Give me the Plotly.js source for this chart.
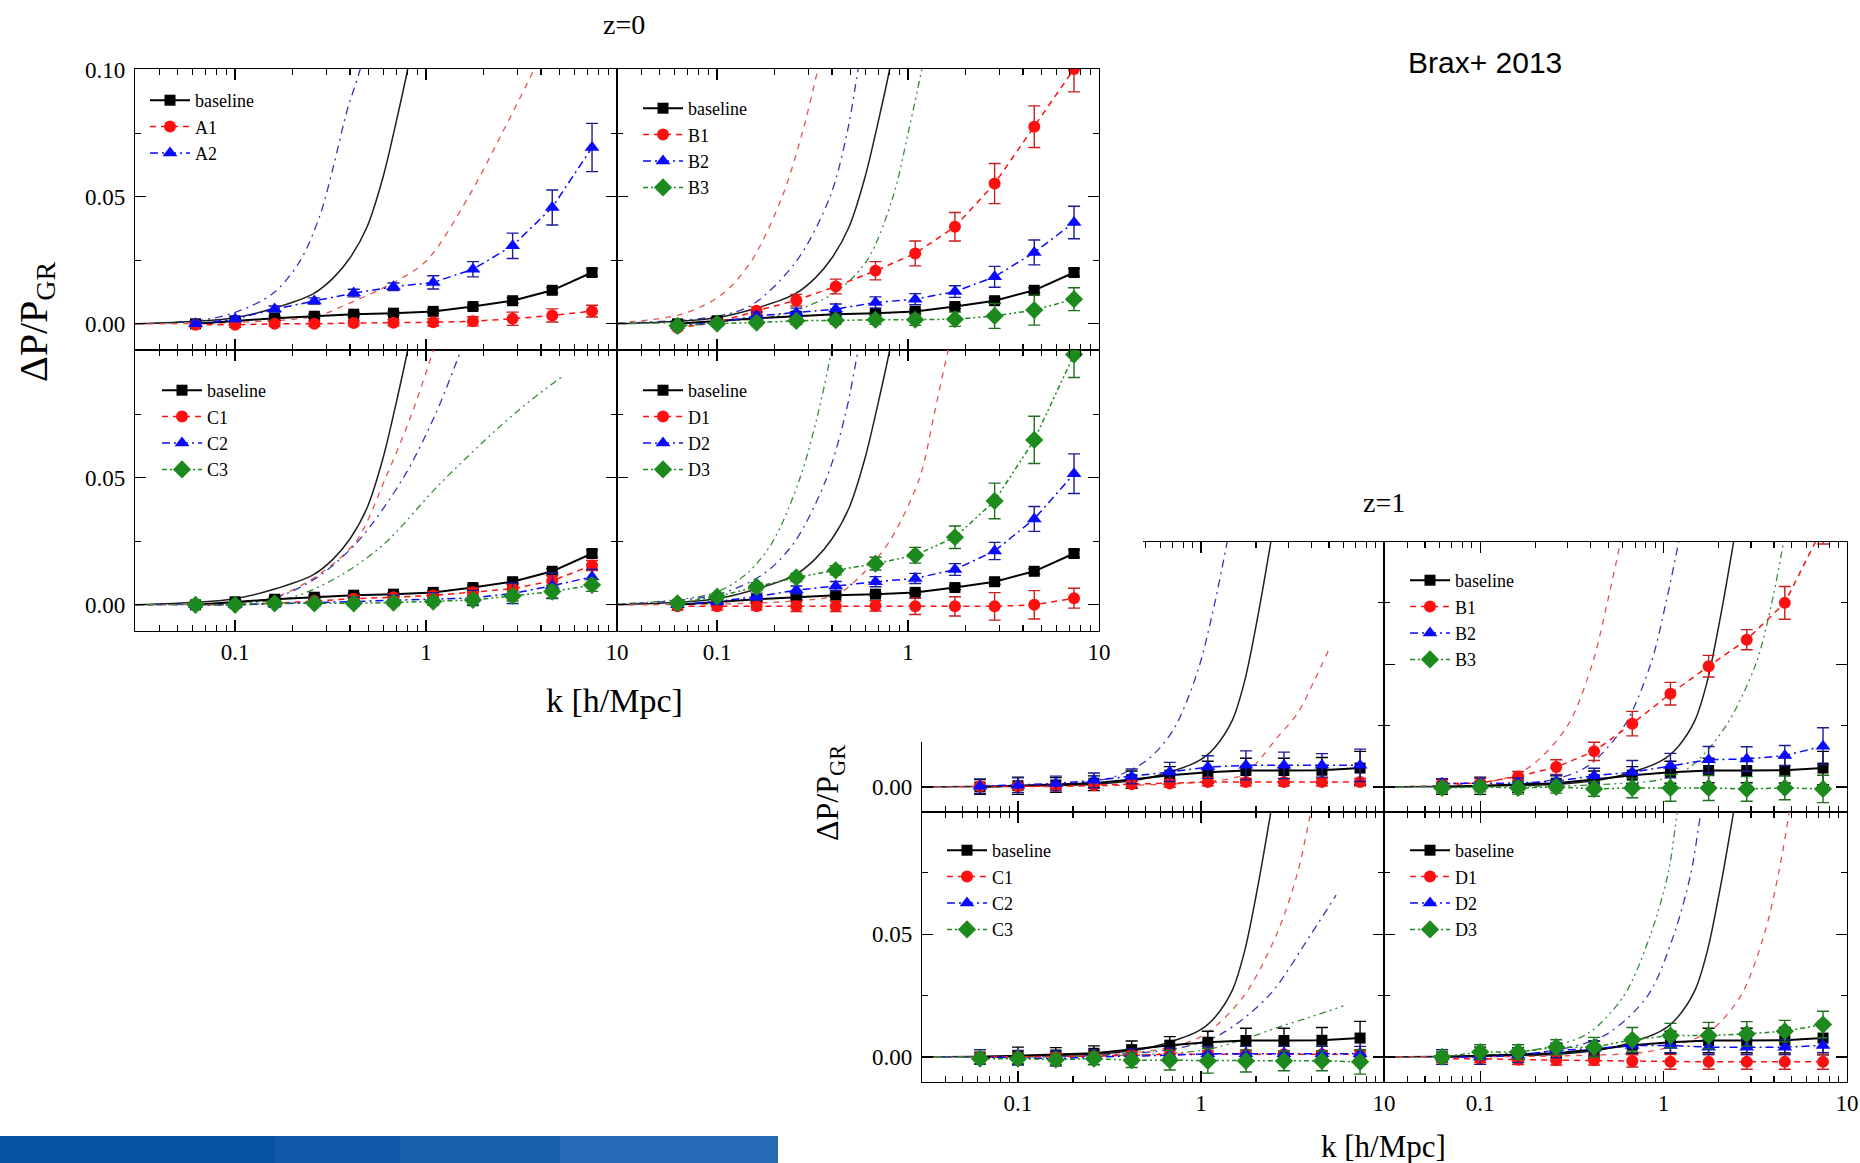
<!DOCTYPE html>
<html><head><meta charset="utf-8">
<script src="https://cdn.plot.ly/plotly-3.0.1.min.js"></script>
<style>
html,body{margin:0;padding:0;background:#fff;width:1860px;height:1163px;overflow:hidden}
#z1{position:absolute;left:0;top:0;width:1860px;height:1163px;z-index:1}
#z0{position:absolute;left:0;top:0;width:1143px;height:742px;z-index:2;background:#fff}
</style></head>
<body><div id="z1"></div><div id="z0"></div>
<script>
// ---------------- data ----------------
const K = [0.062, 0.1, 0.161, 0.26, 0.418, 0.675, 1.09, 1.76, 2.84, 4.58, 7.4];
const X_TICKS = [0.1, 1, 10];
const X_TICKTEXT = ['0.1', '1', '10'];
const X_MINOR = [0.04,0.05,0.06,0.07,0.08,0.09,0.2,0.3,0.4,0.5,0.6,0.7,0.8,0.9,2,3,4,5,6,7,8,9];
const Y_TICKS_FULL = [0, 0.05, 0.1];
const Y_TICKS_LOWER = [0, 0.05];
const Y_TICKS_CROPPED = [0];
const Y_MINOR = [0.025, 0.075];

// z=0 simulation points
const z0_base     = [0.0, 0.0012, 0.0022, 0.003, 0.0038, 0.0042, 0.0049, 0.0068, 0.0091, 0.0132, 0.0202];
const z0_base_err = [0.0008, 0.0008, 0.0008, 0.0008, 0.0008, 0.0008, 0.0008, 0.0008, 0.001, 0.001, 0.0015];
const z0_A1     = [-0.0004, -0.0004, 0.0, 0.0, 0.0003, 0.0004, 0.0006, 0.001, 0.002, 0.0033, 0.005];
const z0_A1_err = [0.001, 0.001, 0.001, 0.001, 0.001, 0.0012, 0.0015, 0.0018, 0.0026, 0.0026, 0.0023];
const z0_A2     = [0.0, 0.0019, 0.0058, 0.009, 0.0121, 0.0146, 0.0163, 0.0215, 0.0307, 0.0458, 0.0694];
const z0_A2_err = [0.001, 0.001, 0.0012, 0.0012, 0.0015, 0.0015, 0.0026, 0.003, 0.005, 0.0069, 0.0095];
const z0_B1     = [-0.0015, 0.0005, 0.0051, 0.0093, 0.0147, 0.0209, 0.0277, 0.0382, 0.0552, 0.0776, 0.1003];
const z0_B1_err = [0.001, 0.0012, 0.0015, 0.0023, 0.0029, 0.0036, 0.0049, 0.0056, 0.0079, 0.0082, 0.009];
const z0_B2     = [-0.0008, 0.0005, 0.0031, 0.0044, 0.0058, 0.0084, 0.0097, 0.0127, 0.0185, 0.0281, 0.0399];
const z0_B2_err = [0.001, 0.001, 0.0015, 0.0018, 0.002, 0.0022, 0.0022, 0.0023, 0.0041, 0.0049, 0.0064];
const z0_B3     = [-0.0008, 0.0001, 0.0005, 0.0012, 0.0014, 0.0016, 0.0016, 0.0018, 0.0031, 0.0054, 0.0097];
const z0_B3_err = [0.001, 0.001, 0.0012, 0.0015, 0.0015, 0.0018, 0.0022, 0.0028, 0.0049, 0.0059, 0.0045];
const z0_C1     = [0.0, 0.0, 0.0006, 0.0015, 0.0024, 0.003, 0.0037, 0.005, 0.0063, 0.0095, 0.0155];
const z0_C1_err = [0.001, 0.001, 0.001, 0.001, 0.0012, 0.0012, 0.0015, 0.0015, 0.002, 0.002, 0.002];
const z0_C2     = [0.0, 0.0, 0.0004, 0.001, 0.0013, 0.0018, 0.0023, 0.0027, 0.0045, 0.0075, 0.011];
const z0_C2_err = [0.0012, 0.0012, 0.0014, 0.0015, 0.0017, 0.002, 0.0025, 0.003, 0.004, 0.005, 0.003];
const z0_C3     = [0.0, 0.0, 0.0006, 0.0006, 0.0006, 0.0009, 0.0013, 0.0019, 0.0035, 0.0052, 0.0078];
const z0_C3_err = [0.001, 0.001, 0.001, 0.001, 0.0012, 0.0012, 0.0015, 0.0018, 0.002, 0.0025, 0.0025];
const z0_D1     = [-0.0006, -0.0006, -0.0006, -0.0006, -0.0006, -0.0004, -0.0006, -0.0006, -0.0006, 0.0, 0.0026];
const z0_D1_err = [0.0015, 0.0015, 0.0015, 0.002, 0.002, 0.002, 0.0032, 0.0038, 0.0054, 0.0056, 0.0039];
const z0_D2     = [0.0, 0.0013, 0.0032, 0.0058, 0.0074, 0.0091, 0.0104, 0.0139, 0.0212, 0.0338, 0.0516];
const z0_D2_err = [0.001, 0.0012, 0.0014, 0.0016, 0.0018, 0.002, 0.002, 0.0023, 0.0034, 0.0049, 0.0078];
const z0_D3     = [0.0006, 0.0032, 0.0071, 0.0108, 0.0136, 0.0162, 0.0195, 0.0266, 0.0409, 0.0649, 0.0985];
const z0_D3_err = [0.001, 0.0012, 0.0015, 0.0016, 0.0018, 0.0025, 0.0031, 0.0044, 0.007, 0.0093, 0.009];

// z=0 model curves
const th0_base_k = [0.03, 0.063, 0.1, 0.158, 0.256, 0.326, 0.40, 0.49, 0.594, 0.70, 0.80, 0.87];
const th0_base_v = [0.0, 0.001, 0.0024, 0.006, 0.0118, 0.018, 0.026, 0.038, 0.0575, 0.08, 0.10, 0.115];
const th0_A1_k = [0.03, 0.1, 0.265, 0.38, 0.686, 1.01, 1.67, 2.5, 3.67, 4.2];
const th0_A1_v = [0.0, 0.0005, 0.003, 0.0075, 0.0165, 0.025, 0.05, 0.075, 0.10, 0.11];
const th0_A2_k = [0.03, 0.063, 0.1, 0.158, 0.219, 0.279, 0.326, 0.386, 0.451, 0.5];
const th0_A2_v = [0.0, 0.0012, 0.0045, 0.012, 0.0248, 0.043, 0.0615, 0.084, 0.10, 0.115];
const th0_B1_k = [0.03, 0.066, 0.107, 0.152, 0.219, 0.279, 0.337, 0.37];
const th0_B1_v = [0.0003, 0.0039, 0.0118, 0.025, 0.05, 0.075, 0.10, 0.112];
const th0_B2_k = [0.03, 0.1, 0.154, 0.262, 0.39, 0.479, 0.547, 0.6];
const th0_B2_v = [0.0002, 0.003, 0.0077, 0.025, 0.05, 0.075, 0.10, 0.118];
const th0_B3_k = [0.03, 0.1, 0.2, 0.405, 0.61, 0.834, 1.0, 1.18, 1.3];
const th0_B3_v = [0.0, 0.001, 0.003, 0.0118, 0.025, 0.05, 0.075, 0.10, 0.115];
const th0_C1_k = [0.03, 0.1, 0.165, 0.279, 0.43, 0.614, 0.84, 1.09, 1.2];
const th0_C1_v = [0.0, 0.0008, 0.0032, 0.0123, 0.025, 0.05, 0.075, 0.10, 0.11];
const th0_C2_k = [0.03, 0.1, 0.165, 0.265, 0.44, 0.76, 1.12, 1.52, 1.65];
const th0_C2_v = [0.0, 0.0008, 0.003, 0.0105, 0.025, 0.05, 0.075, 0.10, 0.107];
const th0_C3_k = [0.03, 0.1, 0.2, 0.37, 0.614, 1.16, 2.38, 3.6, 5.2];
const th0_C3_v = [0.0, 0.0005, 0.003, 0.0123, 0.0245, 0.047, 0.0695, 0.081, 0.090];
const th0_D1_k = [0.03, 0.1, 0.25, 0.42, 0.58, 0.8, 1.15, 1.37, 1.62, 1.75];
const th0_D1_v = [0.0, 0.0003, 0.0015, 0.0039, 0.0123, 0.025, 0.05, 0.075, 0.10, 0.11];
const th0_D2_k = [0.03, 0.1, 0.176, 0.256, 0.375, 0.47, 0.547, 0.6];
const th0_D2_v = [0.0002, 0.004, 0.0123, 0.025, 0.05, 0.075, 0.10, 0.115];
const th0_D3_k = [0.03, 0.095, 0.143, 0.196, 0.272, 0.337, 0.398, 0.43];
const th0_D3_v = [0.0003, 0.0045, 0.0123, 0.025, 0.05, 0.075, 0.10, 0.112];

// z=1 simulation points
const z1_base     = [0.0, 0.0005, 0.0008, 0.0015, 0.003, 0.0048, 0.006, 0.0067, 0.0067, 0.0068, 0.0077];
const z1_base_err = [0.003, 0.0035, 0.003, 0.003, 0.0035, 0.0035, 0.0045, 0.005, 0.005, 0.0052, 0.0068];
const z1_A1     = [0.0003, 0.0003, 0.0003, 0.0007, 0.0011, 0.0014, 0.002, 0.002, 0.002, 0.002, 0.002];
const z1_A1_err = [0.001, 0.001, 0.001, 0.0012, 0.0012, 0.0015, 0.0015, 0.0015, 0.0015, 0.0015, 0.0015];
const z1_A2     = [0.0003, 0.0007, 0.0014, 0.0027, 0.0043, 0.0061, 0.0081, 0.0088, 0.0088, 0.0088, 0.0088];
const z1_A2_err = [0.003, 0.003, 0.003, 0.003, 0.003, 0.0039, 0.0046, 0.0059, 0.0054, 0.0048, 0.0066];
const z1_B1     = [0.0014, 0.0016, 0.0043, 0.0081, 0.0145, 0.0258, 0.038, 0.0492, 0.06, 0.075, 0.106];
const z1_B1_err = [0.002, 0.002, 0.002, 0.003, 0.0037, 0.005, 0.0046, 0.0044, 0.0041, 0.0067, 0.007];
const z1_B2     = [0.0014, 0.0016, 0.0016, 0.0023, 0.0046, 0.006, 0.0087, 0.0111, 0.0114, 0.0128, 0.0166];
const z1_B2_err = [0.002, 0.002, 0.002, 0.0025, 0.003, 0.0048, 0.005, 0.0054, 0.005, 0.0041, 0.0075];
const z1_B3     = [-0.0004, 0.0, -0.0004, 0.0, -0.0008, -0.0004, -0.0004, -0.0004, -0.0008, -0.0004, -0.0008];
const z1_B3_err = [0.002, 0.002, 0.0025, 0.0025, 0.003, 0.004, 0.0054, 0.0051, 0.005, 0.0048, 0.0056];
const z1_C1     = [0.0, 0.0, 0.0, 0.0003, 0.0007, 0.0011, 0.0011, 0.0011, 0.0011, 0.0011, 0.0011];
const z1_C1_err = [0.0015, 0.0015, 0.0015, 0.0015, 0.0015, 0.0015, 0.0015, 0.0015, 0.0015, 0.0015, 0.0015];
const z1_C2     = [0.0, -0.0003, -0.0007, 0.0, 0.0003, 0.0007, 0.0013, 0.0013, 0.0013, 0.0013, 0.0013];
const z1_C2_err = [0.003, 0.003, 0.003, 0.003, 0.003, 0.003, 0.003, 0.003, 0.003, 0.003, 0.003];
const z1_C3     = [-0.0007, -0.0007, -0.0011, -0.0007, -0.0013, -0.0013, -0.0016, -0.0016, -0.0016, -0.0016, -0.002];
const z1_C3_err = [0.002, 0.002, 0.002, 0.0025, 0.003, 0.004, 0.005, 0.0045, 0.004, 0.004, 0.005];
const z1_D1     = [-0.0007, -0.0007, -0.0011, -0.0013, -0.0013, -0.0016, -0.002, -0.002, -0.002, -0.002, -0.002];
const z1_D1_err = [0.0015, 0.0015, 0.002, 0.002, 0.002, 0.0025, 0.003, 0.003, 0.003, 0.003, 0.003];
const z1_D2     = [0.0, 0.0, 0.0007, 0.0027, 0.0034, 0.0047, 0.0047, 0.004, 0.004, 0.004, 0.0047];
const z1_D2_err = [0.003, 0.003, 0.003, 0.003, 0.003, 0.003, 0.003, 0.003, 0.003, 0.003, 0.003];
const z1_D3     = [0.0, 0.002, 0.002, 0.004, 0.004, 0.007, 0.0087, 0.0087, 0.0094, 0.0105, 0.0132];
const z1_D3_err = [0.002, 0.003, 0.003, 0.003, 0.004, 0.005, 0.005, 0.0054, 0.005, 0.0044, 0.0054];

// z=1 model curves
const th1_base_k = [0.03, 0.1, 0.25, 0.417, 0.63, 0.98, 1.19, 1.48, 1.73, 2.05, 2.41, 2.6];
const th1_base_v = [0.0, 0.0004, 0.001, 0.0025, 0.0054, 0.0108, 0.0161, 0.027, 0.043, 0.07, 0.10, 0.115];
const th1_A1_k = [0.03, 0.3, 1.0, 1.72, 2.08, 2.6, 3.37, 4.2, 5.07];
const th1_A1_v = [0.0, 0.0005, 0.002, 0.005, 0.011, 0.02, 0.030, 0.044, 0.057];
const th1_A2_k = [0.03, 0.1, 0.2, 0.331, 0.508, 0.705, 0.953, 1.15, 1.39, 1.5];
const th1_A2_v = [0.0, 0.0005, 0.0015, 0.004, 0.011, 0.0232, 0.0465, 0.07, 0.10, 0.115];
const th1_B1_k = [0.03, 0.129, 0.188, 0.298, 0.408, 0.493, 0.583, 0.62];
const th1_B1_v = [0.0, 0.003, 0.0084, 0.0247, 0.05, 0.075, 0.10, 0.11];
const th1_B2_k = [0.03, 0.15, 0.25, 0.384, 0.608, 0.85, 1.03, 1.21, 1.3];
const th1_B2_v = [0.0, 0.001, 0.003, 0.0084, 0.0247, 0.05, 0.075, 0.10, 0.112];
const th1_B3_k = [0.03, 0.3, 0.6, 0.96, 1.41, 2.18, 3.18, 3.89, 4.52, 4.8];
const th1_B3_v = [0.0, 0.0005, 0.0015, 0.003, 0.0084, 0.0247, 0.05, 0.075, 0.10, 0.11];
const th1_C1_k = [0.03, 0.3, 0.687, 1.06, 1.72, 2.59, 3.37, 3.99, 4.3];
const th1_C1_v = [0.0, 0.0008, 0.004, 0.0094, 0.025, 0.05, 0.075, 0.10, 0.11];
const th1_C2_k = [0.03, 0.3, 0.8, 1.29, 2.35, 3.99, 5.47];
const th1_C2_v = [0.0, 0.0008, 0.004, 0.0094, 0.025, 0.05, 0.0659];
const th1_C3_k = [0.03, 0.3, 1.02, 1.64, 2.64, 3.9, 6.0];
const th1_C3_v = [0.0, 0.0005, 0.0027, 0.0067, 0.0121, 0.0161, 0.0208];
const th1_D1_k = [0.03, 0.3, 0.8, 1.24, 1.81, 2.64, 3.54, 4.24, 4.85, 5.1];
const th1_D1_v = [0.0, 0.0005, 0.002, 0.0054, 0.0108, 0.025, 0.05, 0.075, 0.10, 0.11];
const th1_D2_k = [0.03, 0.15, 0.31, 0.493, 0.82, 1.14, 1.41, 1.6, 1.7];
const th1_D2_v = [0.0, 0.0008, 0.004, 0.0094, 0.025, 0.05, 0.075, 0.10, 0.11];
const th1_D3_k = [0.03, 0.12, 0.232, 0.384, 0.608, 0.85, 1.06, 1.19, 1.27];
const th1_D3_v = [0.0, 0.001, 0.004, 0.0094, 0.025, 0.05, 0.075, 0.10, 0.112];

// ---------------- styles ----------------
const SERIF = '"Liberation Serif", "Times New Roman", "DejaVu Serif", serif';
const SANS = '"Liberation Sans", Arial, "DejaVu Sans", sans-serif';
const COL = {base:'#000000', s1:'#ff1010', s2:'#0a0aff', s3:'#1c8a1c'};
const ERRCOL = {base:'#000000', s1:'#c81e1e', s2:'#1c1c96', s3:'#1d6e1d'};
const THCOL = {base:'#202020', s1:'#e2554e', s2:'#3535b5', s3:'#3a8c3a'};
const DASH = {base:'solid', s1:'6px,5px', s2:'8px,4px,2px,4px', s3:'5px,3px,2px,3px,2px,3px'};
const THDASH = {base:'solid', s1:'6px,6px', s2:'8px,5px,2px,5px', s3:'2px,4px,2px,4px,7px,4px'};
const SYM = {base:'square', s1:'circle', s2:'triangle-up', s3:'diamond'};
const MSIZE = {base:11, s1:12, s2:13, s3:14};
const LOGMIN = Math.log10(0.0299);

function dataTrace(name, role, y, err, xa, ya, legend, showLegend) {
  return {type:'scatter', mode:'lines+markers', x:K, y:y, name:name, xaxis:xa, yaxis:ya, legend:legend,
    showlegend:showLegend,
    line:{color:COL[role], width: role==='base'?2:1.5, dash:DASH[role]},
    marker:{symbol:SYM[role], size:MSIZE[role], color:COL[role]},
    error_y:{type:'data', array:err, visible:true, color:ERRCOL[role], thickness:1.4, width:6},
    hoverinfo:'skip'};
}
function theoryTrace(role, kk, vv, xa, ya) {
  return {type:'scatter', mode:'lines', x:kk, y:vv, xaxis:xa, yaxis:ya, showlegend:false,
    line:{color:THCOL[role], width: role==='base'?1.5:1.3, dash:THDASH[role], shape:'spline', smoothing:0.9},
    hoverinfo:'skip'};
}

function xAxis(dom, anchor, labels) {
  return {type:'log', range:[LOGMIN, 1], domain:dom, anchor:anchor, showline:true, linecolor:'#000', linewidth:1.2,
    mirror:'ticks', ticks:'inside', ticklen:11, tickwidth:1.3, tickcolor:'#000', tickmode:'array',
    tickvals:X_TICKS, ticktext:X_TICKTEXT, showticklabels:labels, ticklabelstandoff:0,
    tickfont:{family:SERIF, size:23, color:'#000'}, showgrid:false, zeroline:false, fixedrange:true,
    minor:{tickmode:'array', tickvals:X_MINOR, ticks:'inside', ticklen:6, tickwidth:1.2, tickcolor:'#000', showgrid:false}};
}
function yAxis(dom, anchor, range, tickvals, labels) {
  return {range:range, domain:dom, anchor:anchor, showline:true, linecolor:'#000', linewidth:1.2,
    mirror:'ticks', ticks:'inside', ticklen:11, tickwidth:1.3, tickcolor:'#000', tickmode:'array',
    tickvals:tickvals, tickformat:'.2f', showticklabels:labels, ticklabelstandoff:4,
    tickfont:{family:SERIF, size:23, color:'#000'}, showgrid:false, zeroline:false, fixedrange:true,
    minor:{tickmode:'array', tickvals:Y_MINOR, ticks:'inside', ticklen:6, tickwidth:1.2, tickcolor:'#000', showgrid:false}};
}
function legendAt(px, py, W, H) {
  return {x:px/W, y:1-py/H, xanchor:'left', yanchor:'top', bgcolor:'rgba(0,0,0,0)', borderwidth:0,
    font:{family:SERIF, size:18, color:'#000'}, tracegroupgap:0, traceorder:'normal', itemwidth:40,
    itemclick:false, itemdoubleclick:false};
}

function buildFigure(panels, W, H, yrange) {
  const traces = [];
  const layout = {width:W, height:H, margin:{l:0,r:0,t:0,b:0}, paper_bgcolor:'#fff', plot_bgcolor:'#fff',
    showlegend:true, annotations:[], shapes:[]};
  panels.forEach((p, i) => {
    const xa = i===0?'x':'x'+(i+1), ya = i===0?'y':'y'+(i+1);
    const legName = i===0?'legend':'legend'+(i+1);
    const xd = [p.xpx[0]/W, p.xpx[1]/W];
    const yd = [1-p.ypx[1]/H, 1-p.ypx[0]/H];
    layout[i===0?'xaxis':'xaxis'+(i+1)] = xAxis(xd, ya, p.xlabels);
    layout[i===0?'yaxis':'yaxis'+(i+1)] = yAxis(yd, xa, yrange, p.yticks, p.ylabels);
    if (p.leg) layout[legName] = legendAt(p.leg[0], p.leg[1], W, H);
    p.theory.forEach(t => traces.push(theoryTrace(t[0], t[1], t[2], xa, ya)));
    p.series.forEach(s => traces.push(dataTrace(s[0], s[1], s[2], s[3], xa, ya, legName, !!p.leg)));
  });
  return {traces, layout};
}
function label(text, px, py, W, H, font, angle) {
  return {text:text, xref:'paper', yref:'paper', x:px/W, y:1-py/H, xanchor:'center', yanchor:'middle',
    showarrow:false, textangle:angle||0, font:font};
}

// ---------------- z = 0 figure ----------------
const W0 = 1143, H0 = 742;
const fig0 = buildFigure([
  {xpx:[135,617], ypx:[69,350], xlabels:false, yticks:Y_TICKS_FULL, ylabels:true, leg:[145,82],
   theory:[['s2',th0_A2_k,th0_A2_v],['base',th0_base_k,th0_base_v],['s1',th0_A1_k,th0_A1_v]],
   series:[['baseline','base',z0_base,z0_base_err],['A1','s1',z0_A1,z0_A1_err],['A2','s2',z0_A2,z0_A2_err]]},
  {xpx:[617,1099], ypx:[69,350], xlabels:false, yticks:Y_TICKS_FULL, ylabels:false, leg:[638,90],
   theory:[['s1',th0_B1_k,th0_B1_v],['s2',th0_B2_k,th0_B2_v],['base',th0_base_k,th0_base_v],['s3',th0_B3_k,th0_B3_v]],
   series:[['baseline','base',z0_base,z0_base_err],['B1','s1',z0_B1,z0_B1_err],['B2','s2',z0_B2,z0_B2_err],['B3','s3',z0_B3,z0_B3_err]]},
  {xpx:[135,617], ypx:[350,631], xlabels:true, yticks:Y_TICKS_LOWER, ylabels:true, leg:[157,372],
   theory:[['base',th0_base_k,th0_base_v],['s1',th0_C1_k,th0_C1_v],['s2',th0_C2_k,th0_C2_v],['s3',th0_C3_k,th0_C3_v]],
   series:[['baseline','base',z0_base,z0_base_err],['C1','s1',z0_C1,z0_C1_err],['C2','s2',z0_C2,z0_C2_err],['C3','s3',z0_C3,z0_C3_err]]},
  {xpx:[617,1099], ypx:[350,631], xlabels:true, yticks:Y_TICKS_LOWER, ylabels:false, leg:[638,372],
   theory:[['s3',th0_D3_k,th0_D3_v],['s2',th0_D2_k,th0_D2_v],['base',th0_base_k,th0_base_v],['s1',th0_D1_k,th0_D1_v]],
   series:[['baseline','base',z0_base,z0_base_err],['D1','s1',z0_D1,z0_D1_err],['D2','s2',z0_D2,z0_D2_err],['D3','s3',z0_D3,z0_D3_err]]}
], W0, H0, [-0.0103, 0.1003]);
fig0.layout.annotations.push(
  label('z=0', 624, 24, W0, H0, {family:SERIF, size:28, color:'#000'}),
  label('k [h/Mpc]', 614, 700, W0, H0, {family:SERIF, size:34, color:'#000'}),
  label('ΔP/P<sub>GR</sub>', 36, 322, W0, H0, {family:SERIF, size:40, color:'#000'}, -90)
);

// ---------------- z = 1 figure ----------------
const W1 = 1860, H1 = 1163;
const fig1 = buildFigure([
  // top-left panel: its upper part lies under the z=0 figure, so its legend is not visible
  {xpx:[922,1384], ypx:[542,812], xlabels:false, yticks:Y_TICKS_CROPPED, ylabels:true, leg:null,
   theory:[['s2',th1_A2_k,th1_A2_v],['base',th1_base_k,th1_base_v],['s1',th1_A1_k,th1_A1_v]],
   series:[['baseline','base',z1_base,z1_base_err],['A1','s1',z1_A1,z1_A1_err],['A2','s2',z1_A2,z1_A2_err]]},
  {xpx:[1384,1847], ypx:[542,812], xlabels:false, yticks:Y_TICKS_FULL, ylabels:false, leg:[1405,562],
   theory:[['s1',th1_B1_k,th1_B1_v],['s2',th1_B2_k,th1_B2_v],['base',th1_base_k,th1_base_v],['s3',th1_B3_k,th1_B3_v]],
   series:[['baseline','base',z1_base,z1_base_err],['B1','s1',z1_B1,z1_B1_err],['B2','s2',z1_B2,z1_B2_err],['B3','s3',z1_B3,z1_B3_err]]},
  {xpx:[922,1384], ypx:[812,1082], xlabels:true, yticks:Y_TICKS_LOWER, ylabels:true, leg:[942,832],
   theory:[['base',th1_base_k,th1_base_v],['s1',th1_C1_k,th1_C1_v],['s2',th1_C2_k,th1_C2_v],['s3',th1_C3_k,th1_C3_v]],
   series:[['baseline','base',z1_base,z1_base_err],['C1','s1',z1_C1,z1_C1_err],['C2','s2',z1_C2,z1_C2_err],['C3','s3',z1_C3,z1_C3_err]]},
  {xpx:[1384,1847], ypx:[812,1082], xlabels:true, yticks:Y_TICKS_LOWER, ylabels:false, leg:[1405,832],
   theory:[['s3',th1_D3_k,th1_D3_v],['s2',th1_D2_k,th1_D2_v],['base',th1_base_k,th1_base_v],['s1',th1_D1_k,th1_D1_v]],
   series:[['baseline','base',z1_base,z1_base_err],['D1','s1',z1_D1,z1_D1_err],['D2','s2',z1_D2,z1_D2_err],['D3','s3',z1_D3,z1_D3_err]]}
], W1, H1, [-0.0102, 0.0998]);
fig1.layout.annotations.push(
  label('z=1', 1384, 502, W1, H1, {family:SERIF, size:28, color:'#000'}),
  label('k [h/Mpc]', 1383, 1146, W1, H1, {family:SERIF, size:31, color:'#000'}),
  label('ΔP/P<sub>GR</sub>', 829, 793, W1, H1, {family:SERIF, size:32, color:'#000'}, -90),
  label('Brax+ 2013', 1485, 63, W1, H1, {family:SANS, size:30, color:'#000'})
);
// decorative blue band at bottom-left
fig1.layout.shapes.push(
  {type:'rect', xref:'paper', yref:'paper', x0:0, x1:778/W1, y0:0, y1:27/H1, fillcolor:'#0752a3', line:{width:0}, layer:'below'},
  {type:'rect', xref:'paper', yref:'paper', x0:275/W1, x1:778/W1, y0:0, y1:27/H1, fillcolor:'rgba(90,150,215,0.12)', line:{width:0}, layer:'below'},
  {type:'rect', xref:'paper', yref:'paper', x0:400/W1, x1:778/W1, y0:0, y1:27/H1, fillcolor:'rgba(90,150,215,0.12)', line:{width:0}, layer:'below'},
  {type:'rect', xref:'paper', yref:'paper', x0:560/W1, x1:778/W1, y0:0, y1:27/H1, fillcolor:'rgba(110,165,225,0.14)', line:{width:0}, layer:'below'}
);

const CFG = {displayModeBar:false, staticPlot:true};
Plotly.newPlot('z1', fig1.traces, fig1.layout, CFG);
Plotly.newPlot('z0', fig0.traces, fig0.layout, CFG);
</script>
</body></html>
